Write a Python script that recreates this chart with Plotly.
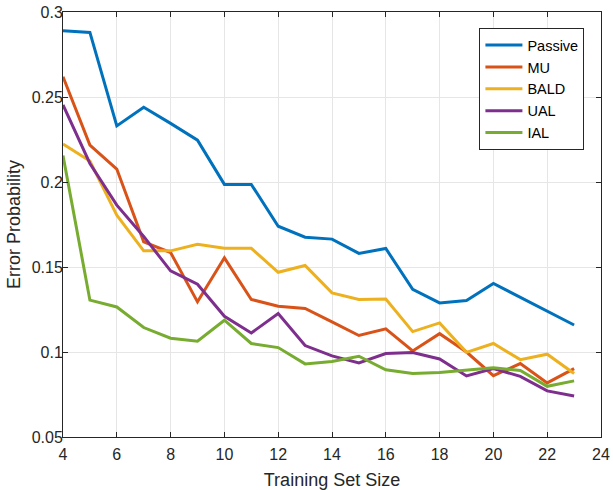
import plotly.graph_objects as go

training_size = list(range(4, 24))
passive = [0.289, 0.288, 0.233, 0.244, 0.2345, 0.2246, 0.1986, 0.1986, 0.174, 0.1675,
           0.1664, 0.158, 0.1609, 0.1368, 0.1289, 0.1303, 0.1403, 0.1322, 0.1242, 0.1159]
mu = [0.2619, 0.2217, 0.2076, 0.1648, 0.1585, 0.1295, 0.1554, 0.1309, 0.1269, 0.1256,
      0.1177, 0.1097, 0.1136, 0.1006, 0.1108, 0.1, 0.0861, 0.0932, 0.0818, 0.0902]
bald = [0.2223, 0.2123, 0.1805, 0.1595, 0.1595, 0.1634, 0.161, 0.161, 0.1469, 0.1509,
        0.1348, 0.1309, 0.1312, 0.112, 0.1171, 0.0998, 0.105, 0.0955, 0.0987, 0.0874]
ual = [0.2453, 0.2109, 0.1864, 0.168, 0.1477, 0.1399, 0.121, 0.1112, 0.1226, 0.1038,
       0.0977, 0.0936, 0.0991, 0.0997, 0.0959, 0.0859, 0.0902, 0.0857, 0.0771, 0.0741]
ial = [0.2156, 0.1305, 0.1265, 0.1144, 0.1081, 0.1063, 0.1187, 0.105, 0.1026, 0.093,
       0.0944, 0.0975, 0.0895, 0.0873, 0.0879, 0.0893, 0.0908, 0.0891, 0.0798, 0.083]

series = [("Passive", passive, "#0072BD"), ("MU", mu, "#D95319"), ("BALD", bald, "#EDB120"),
          ("UAL", ual, "#7E2F8E"), ("IAL", ial, "#77AC30")]

fig = go.Figure()
for name, vals, color in series:
    fig.add_trace(go.Scatter(x=training_size, y=vals, mode="lines", name=name,
                             line=dict(color=color, width=3)))

axis_common = dict(showline=True, linecolor="#262626", linewidth=1, mirror="ticks",
                   ticks="inside", ticklen=5, tickcolor="#262626", automargin=False,
                   showgrid=True, gridcolor="#e6e6e6", gridwidth=1, zeroline=False,
                   tickfont=dict(size=16, color="#262626"))

fig.update_layout(
    width=613, height=490,
    margin=dict(l=63, r=12, t=12, b=53),
    paper_bgcolor="white", plot_bgcolor="white",
    font=dict(family="Liberation Sans, Arial, sans-serif", color="#262626"),
    xaxis=dict(range=[4, 24], dtick=2, ticklabelstandoff=3,
               title=dict(text="Training Set Size", font=dict(size=18)),
               **axis_common),
    yaxis=dict(range=[0.05, 0.3], dtick=0.05, ticklabelstandoff=-4,
               title=dict(text="Error Probability", font=dict(size=18), standoff=6),
               **axis_common),
    legend=dict(x=0.774, y=0.962, xanchor="left", yanchor="top", bordercolor="#262626",
                borderwidth=1, bgcolor="white", font=dict(size=14.5, color="black"),
                tracegroupgap=0, itemwidth=37),
    showlegend=True,
)

fig.write_html("out.html", config={"displayModeBar": False},
               post_script="document.body.style.margin='0';document.body.style.overflow='hidden';")
